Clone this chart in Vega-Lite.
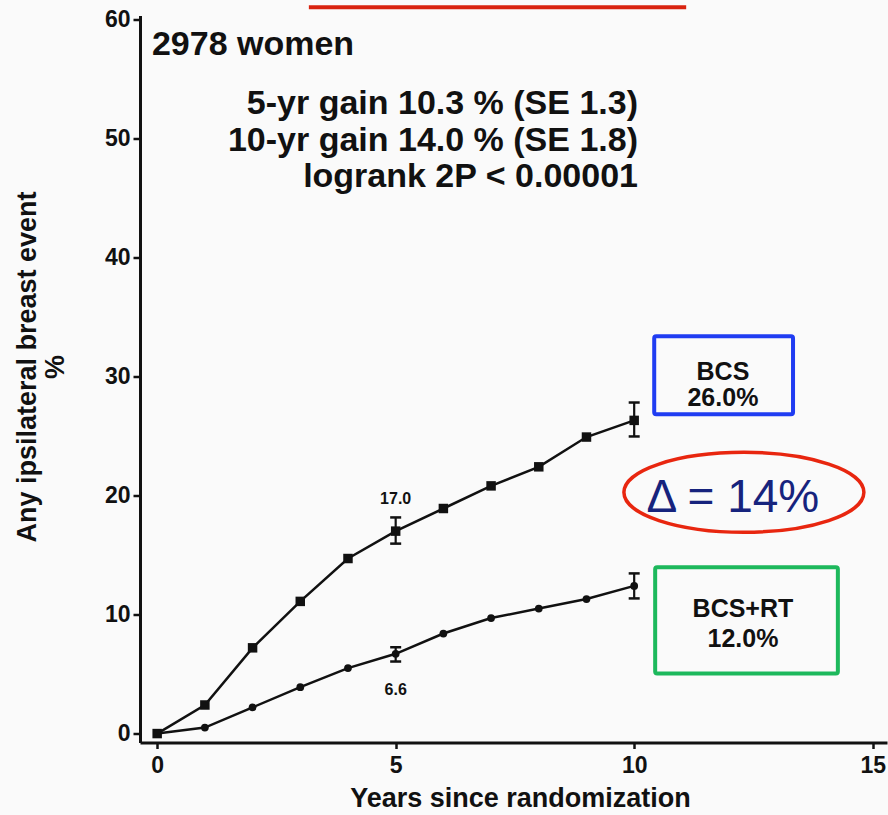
{
  "$schema": "https://vega.github.io/schema/vega-lite/v6.json",
  "width": 747,
  "height": 727,
  "autosize": {"type": "none"},
  "padding": {"left": 140, "top": 15.5, "right": 1, "bottom": 72.5},
  "background": "#fafafa",
  "config": {
    "view": {"stroke": null},
    "font": "Liberation Sans",
    "axis": {
      "grid": false,
      "domainColor": "#111111",
      "domainWidth": 3,
      "tickColor": "#111111",
      "tickWidth": 2.5,
      "labelFont": "Liberation Sans",
      "labelFontWeight": "bold",
      "labelFontSize": 23,
      "labelColor": "#111111",
      "labelFlush": false,
      "labelOverlap": false,
      "titleFont": "Liberation Sans",
      "titleFontWeight": "bold",
      "titleFontSize": 27,
      "titleColor": "#111111"
    },
    "axisX": {"tickSize": 6, "labelPadding": 6},
    "axisY": {"tickSize": 7, "labelPadding": 3}
  },
  "datasets": {
    "curves": [
      {"year": 0, "pct": 0, "arm": "BCS"},
      {"year": 1, "pct": 2.4, "arm": "BCS"},
      {"year": 2, "pct": 7.2, "arm": "BCS"},
      {"year": 3, "pct": 11.1, "arm": "BCS"},
      {"year": 4, "pct": 14.7, "arm": "BCS"},
      {"year": 5, "pct": 17.0, "arm": "BCS"},
      {"year": 6, "pct": 18.9, "arm": "BCS"},
      {"year": 7, "pct": 20.8, "arm": "BCS"},
      {"year": 8, "pct": 22.4, "arm": "BCS"},
      {"year": 9, "pct": 24.9, "arm": "BCS"},
      {"year": 10, "pct": 26.3, "arm": "BCS"},
      {"year": 0, "pct": 0, "arm": "BCS+RT"},
      {"year": 1, "pct": 0.5, "arm": "BCS+RT"},
      {"year": 2, "pct": 2.2, "arm": "BCS+RT"},
      {"year": 3, "pct": 3.9, "arm": "BCS+RT"},
      {"year": 4, "pct": 5.5, "arm": "BCS+RT"},
      {"year": 5, "pct": 6.7, "arm": "BCS+RT"},
      {"year": 6, "pct": 8.4, "arm": "BCS+RT"},
      {"year": 7, "pct": 9.7, "arm": "BCS+RT"},
      {"year": 8, "pct": 10.5, "arm": "BCS+RT"},
      {"year": 9, "pct": 11.3, "arm": "BCS+RT"},
      {"year": 10, "pct": 12.4, "arm": "BCS+RT"}
    ],
    "errs": [
      {"year": 5, "lo": 15.95, "hi": 18.15, "arm": "BCS"},
      {"year": 10, "lo": 24.95, "hi": 27.8, "arm": "BCS"},
      {"year": 5, "lo": 6.05, "hi": 7.25, "arm": "BCS+RT"},
      {"year": 10, "lo": 11.35, "hi": 13.45, "arm": "BCS+RT"}
    ],
    "vals": [
      {"year": 5, "pct": 19.3, "label": "17.0"},
      {"year": 5, "pct": 3.2, "label": "6.6"}
    ],
    "header": [
      {"x": -0.11, "y": 56.98, "label": "2978 women"}
    ],
    "stats": [
      {"x": 10.08, "y": 52.0, "label": "5-yr gain 10.3 % (SE 1.3)"},
      {"x": 10.08, "y": 48.9, "label": "10-yr gain 14.0 % (SE 1.8)"},
      {"x": 10.08, "y": 45.9, "label": "logrank 2P < 0.00001"}
    ],
    "boxes": [
      {"x1": 10.42, "x2": 13.33, "y1": 33.37, "y2": 26.81, "box": "BCS"},
      {"x1": 10.44, "x2": 14.27, "y1": 13.96, "y2": 5.05, "box": "BCS+RT"}
    ],
    "boxtext": [
      {"x": 11.86, "y": 29.7, "label": "BCS"},
      {"x": 11.86, "y": 27.5, "label": "26.0%"},
      {"x": 12.28, "y": 9.75, "label": "BCS+RT"},
      {"x": 12.28, "y": 7.23, "label": "12.0%"}
    ],
    "delta": [
      {"x": 12.07, "y": 18.58, "cx": 12.3, "cy": 20.26, "label": "Δ = 14%"}
    ],
    "underline": [
      {"x1": 3.18, "x2": 11.09, "y": 61.0}
    ]
  },
  "layer": [
    {
      "data": {"name": "curves"},
      "mark": {"type": "line", "color": "#111111", "strokeWidth": 2.5},
      "encoding": {
        "x": {
          "field": "year", "type": "quantitative",
          "scale": {"domain": [-0.36, 15.3], "nice": false, "zero": false},
          "axis": {
            "values": [0, 5, 10, 15],
            "title": "Years since randomization",
            "titleX": 380, "titleY": 64,
            "titleAlign": "center", "titleBaseline": "alphabetic"
          }
        },
        "y": {
          "field": "pct", "type": "quantitative",
          "scale": {"domain": [-0.75, 60.3], "nice": false, "zero": false},
          "axis": {
            "values": [0, 10, 20, 30, 40, 50, 60],
            "title": ["Any ipsilateral breast event", "%"],
            "titleX": -105, "titleY": 351, "titleAngle": -90,
            "titleAlign": "center", "titleBaseline": "alphabetic",
            "titleLineHeight": 28
          }
        },
        "detail": {"field": "arm"}
      }
    },
    {
      "data": {"name": "curves"},
      "transform": [{"filter": "datum.arm === 'BCS'"}],
      "mark": {"type": "point", "shape": "square", "filled": true, "color": "#111111", "size": 90, "opacity": 1},
      "encoding": {
        "x": {"field": "year", "type": "quantitative"},
        "y": {"field": "pct", "type": "quantitative"}
      }
    },
    {
      "data": {"name": "curves"},
      "transform": [{"filter": "datum.arm === 'BCS+RT'"}],
      "mark": {"type": "point", "shape": "circle", "filled": true, "color": "#111111", "size": 60, "opacity": 1},
      "encoding": {
        "x": {"field": "year", "type": "quantitative"},
        "y": {"field": "pct", "type": "quantitative"}
      }
    },
    {
      "data": {"name": "errs"},
      "mark": {"type": "rule", "color": "#111111", "strokeWidth": 2.2},
      "encoding": {
        "x": {"field": "year", "type": "quantitative"},
        "y": {"field": "lo", "type": "quantitative"},
        "y2": {"field": "hi"}
      }
    },
    {
      "data": {"name": "errs"},
      "mark": {"type": "tick", "orient": "horizontal", "color": "#111111", "size": 11, "thickness": 2.5, "opacity": 1},
      "encoding": {
        "x": {"field": "year", "type": "quantitative"},
        "y": {"field": "lo", "type": "quantitative"}
      }
    },
    {
      "data": {"name": "errs"},
      "mark": {"type": "tick", "orient": "horizontal", "color": "#111111", "size": 11, "thickness": 2.5, "opacity": 1},
      "encoding": {
        "x": {"field": "year", "type": "quantitative"},
        "y": {"field": "hi", "type": "quantitative"}
      }
    },
    {
      "data": {"name": "vals"},
      "mark": {"type": "text", "font": "Liberation Sans", "fontWeight": "bold", "fontSize": 16, "align": "center", "baseline": "alphabetic", "color": "#111111"},
      "encoding": {
        "x": {"field": "year", "type": "quantitative"},
        "y": {"field": "pct", "type": "quantitative"},
        "text": {"field": "label"}
      }
    },
    {
      "data": {"name": "header"},
      "mark": {"type": "text", "font": "Liberation Sans", "fontWeight": "bold", "fontSize": 34, "align": "left", "baseline": "alphabetic", "color": "#111111"},
      "encoding": {
        "x": {"field": "x", "type": "quantitative"},
        "y": {"field": "y", "type": "quantitative"},
        "text": {"field": "label"}
      }
    },
    {
      "data": {"name": "stats"},
      "mark": {"type": "text", "font": "Liberation Sans", "fontWeight": "bold", "fontSize": 34, "align": "right", "baseline": "alphabetic", "color": "#111111"},
      "encoding": {
        "x": {"field": "x", "type": "quantitative"},
        "y": {"field": "y", "type": "quantitative"},
        "text": {"field": "label"}
      }
    },
    {
      "data": {"name": "boxes"},
      "mark": {"type": "rect", "filled": false, "strokeWidth": 4, "cornerRadius": 2},
      "encoding": {
        "x": {"field": "x1", "type": "quantitative"},
        "x2": {"field": "x2"},
        "y": {"field": "y1", "type": "quantitative"},
        "y2": {"field": "y2"},
        "stroke": {"field": "box", "type": "nominal", "scale": {"domain": ["BCS", "BCS+RT"], "range": ["#1f3cf2", "#1db85c"]}, "legend": null}
      }
    },
    {
      "data": {"name": "boxtext"},
      "mark": {"type": "text", "font": "Liberation Sans", "fontWeight": "bold", "fontSize": 25, "align": "center", "baseline": "alphabetic", "color": "#111111"},
      "encoding": {
        "x": {"field": "x", "type": "quantitative"},
        "y": {"field": "y", "type": "quantitative"},
        "text": {"field": "label"}
      }
    },
    {
      "data": {"name": "delta"},
      "mark": {"type": "point", "shape": "M-1,0A1,0.333,0,1,1,1,0A1,0.333,0,1,1,-1,0Z", "filled": false, "size": 57600, "color": "#e8260f", "strokeWidth": 3.5, "opacity": 1},
      "encoding": {
        "x": {"field": "cx", "type": "quantitative"},
        "y": {"field": "cy", "type": "quantitative"}
      }
    },
    {
      "data": {"name": "delta"},
      "mark": {"type": "text", "font": "Liberation Sans", "fontSize": 46, "align": "center", "baseline": "alphabetic", "color": "#16237d"},
      "encoding": {
        "x": {"field": "x", "type": "quantitative"},
        "y": {"field": "y", "type": "quantitative"},
        "text": {"field": "label"}
      }
    },
    {
      "data": {"name": "underline"},
      "mark": {"type": "rule", "color": "#d9230f", "strokeWidth": 4, "strokeCap": "butt"},
      "encoding": {
        "x": {"field": "x1", "type": "quantitative"},
        "x2": {"field": "x2"},
        "y": {"field": "y", "type": "quantitative"}
      }
    }
  ]
}
